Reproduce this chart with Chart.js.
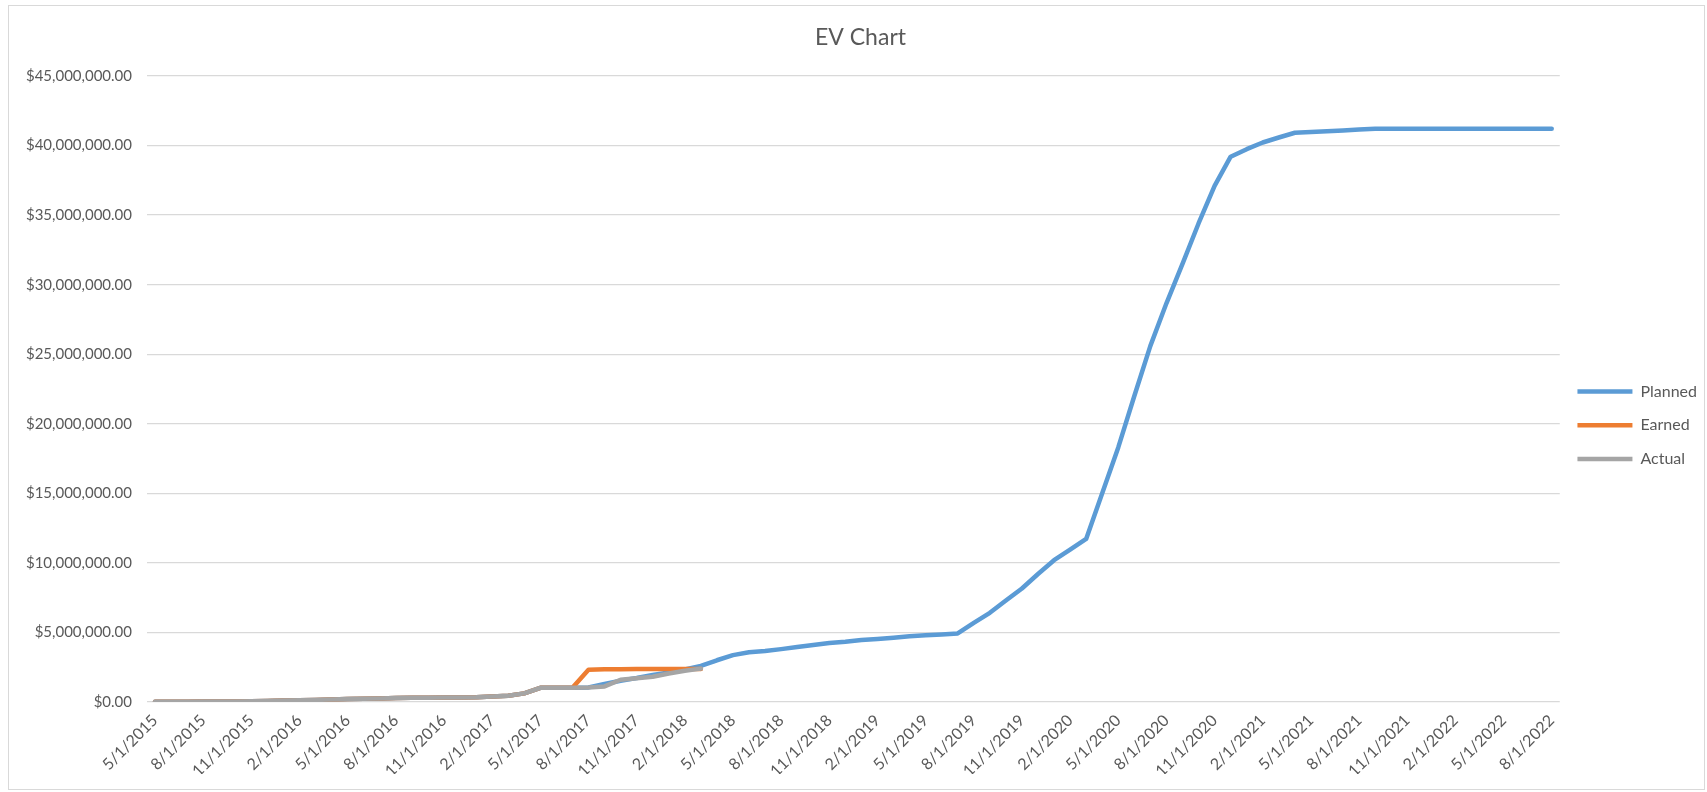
<!DOCTYPE html>
<html><head><meta charset="utf-8">
<script src="https://cdn.jsdelivr.net/npm/chart.js@4.4.1/dist/chart.umd.min.js"></script>
<style>
html,body{margin:0;padding:0;background:#fff;}
#wrap{position:relative;width:1707px;height:792px;overflow:hidden;}
#frame{position:absolute;left:8px;top:5px;width:1697px;height:785px;border:1px solid #d9d9d9;box-sizing:border-box;}
canvas{position:absolute;left:0;top:0;}
</style></head><body>
<div id="wrap"><div id="frame"></div><canvas id="c" width="1707" height="792"></canvas></div>
<script>
const chartTitle = 'EV Chart';
const categories = [
 '5/1/2015','6/1/2015','7/1/2015','8/1/2015','9/1/2015','10/1/2015','11/1/2015','12/1/2015',
 '1/1/2016','2/1/2016','3/1/2016','4/1/2016','5/1/2016','6/1/2016','7/1/2016','8/1/2016','9/1/2016','10/1/2016','11/1/2016','12/1/2016',
 '1/1/2017','2/1/2017','3/1/2017','4/1/2017','5/1/2017','6/1/2017','7/1/2017','8/1/2017','9/1/2017','10/1/2017','11/1/2017','12/1/2017',
 '1/1/2018','2/1/2018','3/1/2018','4/1/2018','5/1/2018','6/1/2018','7/1/2018','8/1/2018','9/1/2018','10/1/2018','11/1/2018','12/1/2018',
 '1/1/2019','2/1/2019','3/1/2019','4/1/2019','5/1/2019','6/1/2019','7/1/2019','8/1/2019','9/1/2019','10/1/2019','11/1/2019','12/1/2019',
 '1/1/2020','2/1/2020','3/1/2020','4/1/2020','5/1/2020','6/1/2020','7/1/2020','8/1/2020','9/1/2020','10/1/2020','11/1/2020','12/1/2020',
 '1/1/2021','2/1/2021','3/1/2021','4/1/2021','5/1/2021','6/1/2021','7/1/2021','8/1/2021','9/1/2021','10/1/2021','11/1/2021','12/1/2021',
 '1/1/2022','2/1/2022','3/1/2022','4/1/2022','5/1/2022','6/1/2022','7/1/2022','8/1/2022'
];
const planned = [
 20000,20000,20000,30000,30000,40000,60000,80000,
 100000,130000,150000,180000,210000,240000,260000,280000,300000,310000,320000,330000,
 350000,400000,450000,620000,1020000,1020000,1020000,1050000,1290000,1530000,1720000,1940000,
 2120000,2340000,2600000,3000000,3370000,3580000,3660000,3800000,3950000,4100000,4240000,4330000,
 4450000,4530000,4620000,4720000,4800000,4860000,4930000,5690000,6410000,7300000,8160000,9200000,
 10190000,10960000,11720000,15000000,18300000,22000000,25600000,28660000,31500000,34400000,37100000,39200000,
 39740000,40220000,40580000,40920000,40980000,41020000,41080000,41150000,41200000,41200000,41200000,41200000,
 41200000,41200000,41200000,41200000,41200000,41200000,41200000,41200000
];
const earned = [
 20000,20000,20000,30000,30000,40000,60000,80000,
 100000,130000,150000,180000,210000,240000,260000,280000,300000,310000,320000,330000,
 350000,400000,450000,620000,1020000,1020000,1020000,2320000,2350000,2360000,2370000,2370000,
 2370000,2370000,2380000
];
const actual = [
 20000,20000,20000,30000,30000,40000,60000,80000,
 100000,130000,150000,180000,210000,240000,260000,280000,300000,310000,320000,330000,
 350000,400000,450000,620000,1020000,1020000,1020000,1050000,1120000,1600000,1700000,1820000,
 2050000,2250000,2400000
];
const yTicks = [0,5000000,10000000,15000000,20000000,25000000,30000000,35000000,40000000,45000000];

const fmt = v => '$' + Number(v).toLocaleString('en-US',{minimumFractionDigits:2,maximumFractionDigits:2});
const FONT = 'Lato';
const TXT = '#595959';

function ds(label, data, color, order){
  return {label, data, borderColor:color, backgroundColor:color, borderWidth:4.5,
    pointRadius:0, pointHoverRadius:0, tension:0, fill:false,
    borderCapStyle:'round', borderJoinStyle:'round', order};
}

new Chart(document.getElementById('c'), {
  type:'line',
  data:{labels:categories, datasets:[
    ds('Planned', planned, '#5B9BD5', 3),
    ds('Earned', earned, '#ED7D31', 2),
    ds('Actual', actual, '#A5A5A5', 1)
  ]},
  options:{
    responsive:false, animation:false, devicePixelRatio:1,
    layout:{padding:{left:14,right:0,top:0,bottom:18}},
    plugins:{
      title:{display:true,text:chartTitle,color:TXT,font:{family:FONT,size:23,weight:'normal'},padding:{top:24,bottom:24.4}},
      legend:{position:'right',
        title:{display:true, text:' ', font:{size:12}, padding:{top:0,bottom:62}},
        labels:{usePointStyle:true, pointStyle:'line', pointStyleWidth:55, boxHeight:16,
        padding:17.7, color:TXT, font:{family:FONT,size:16}, sort:(a,b)=>a.datasetIndex-b.datasetIndex}},
      tooltip:{enabled:false}
    },
    scales:{
      x:{offset:true, grid:{display:false}, border:{display:false},
        ticks:{autoSkip:false, minRotation:45, maxRotation:45, color:TXT, font:{family:FONT,size:16}, padding:1,
          callback:(v,i)=> i%3===0 ? categories[i] : ''},
        afterFit:s=>{s.height=72;}},
      y:{min:0, max:45000000,
        afterBuildTicks:s=>{s.ticks = yTicks.map(v=>({value:v}));},
        ticks:{padding:15, color:TXT, font:{family:FONT,size:15}, callback:v=>fmt(v)},
        grid:{color:'#d9d9d9', lineWidth:1.3, drawTicks:false}, border:{display:false},
        afterFit:s=>{s.width=133;}}
    }
  }
});
</script>
</body></html>
